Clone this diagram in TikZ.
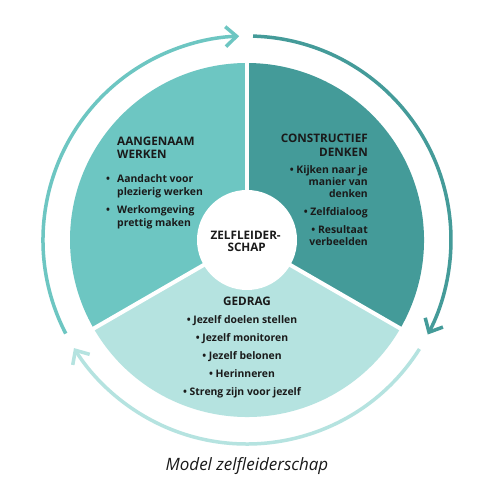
\documentclass[tikz,border=0pt]{standalone}
\usepackage{fontspec}
\setmainfont{Open Sans}
\usetikzlibrary{arrows.meta,calc}
\definecolor{secA}{HTML}{6DC6C2}
\definecolor{secB}{HTML}{449B99}
\definecolor{secC}{HTML}{B5E3E0}
\definecolor{txt}{HTML}{1A1A1A}
\begin{document}
\begin{tikzpicture}[x=1pt,y=1pt,
  hd/.style={font=\bfseries\fontsize{11.7}{13}\selectfont, text=txt, inner sep=0pt},
  bl/.style={font=\bfseries\fontsize{10.4}{12}\selectfont, text=txt, inner sep=0pt},
  ring/.style={line width=3.5pt, -{Straight Barb[length=11pt,width=20pt]}},
  gap/.style={white, line width=4pt}]
\useasboundingbox (0,0) rectangle (500,500);
\fill[white] (0,0) rectangle (500,500);
\coordinate (C) at (247,260);
% sectors
\fill[secA] (C) -- ($(C)+(90:177)$) arc[start angle=90,end angle=210,radius=177] -- cycle;
\fill[secB] (C) -- ($(C)+(-30:177)$) arc[start angle=-30,end angle=90,radius=177] -- cycle;
\fill[secC] (C) -- ($(C)+(210:177)$) arc[start angle=210,end angle=330,radius=177] -- cycle;
\foreach \a in {90,210,330} \draw[gap] (C) -- ($(C)+(\a:182)$);
\fill[white] (C) circle[radius=50];
% ring arrows
\draw[ring, secA] ($(C)+(207.3:204)$) arc[start angle=207.3,end angle=92.2,radius=204];
\draw[ring, secB] ($(C)+(88.3:204)$) arc[start angle=88.3,end angle=-27.6,radius=204];
\draw[ring, secC] ($(C)+(-32.3:204)$) arc[start angle=-32.3,end angle=-148,radius=204];
% centre
\node[hd, anchor=base] (z1) at (245.7,260.7) {ZELFLEIDER-};
\node[hd, anchor=base] (z2) at (246.7,248.3) {SCHAP};
% left sector
\node[hd, anchor=base west] (a1) at (117,354.5) {AANGENAAM};
\node[hd, anchor=base west] (a2) at (117,341.2) {WERKEN};
\node[bl, anchor=base] (ab1) at (108,317) {•};
\node[bl, anchor=base west] (a3) at (117,317) {Aandacht voor};
\node[bl, anchor=base west] (a4) at (117,304.3) {plezierig werken};
\node[bl, anchor=base] (ab2) at (108,286) {•};
\node[bl, anchor=base west] (a5) at (117,286) {Werkomgeving};
\node[bl, anchor=base west] (a6) at (117,273.3) {prettig maken};
% right sector
\node[hd, anchor=base east] (b1) at (368,357.3) {CONSTRUCTIEF};
\node[hd, anchor=base east] (b2) at (368,343.3) {DENKEN};
\node[bl, anchor=base east] (b3) at (368,326) {• Kijken naar je};
\node[bl, anchor=base east] (b4) at (368,314) {manier van};
\node[bl, anchor=base east] (b5) at (368,302) {denken};
\node[bl, anchor=base east] (b6) at (368,284) {• Zelfdialoog};
\node[bl, anchor=base east] (b7) at (368,266) {• Resultaat};
\node[bl, anchor=base east] (b8) at (368,254) {verbeelden};
% bottom sector
\node[hd, anchor=base] (c1) at (247,194.7) {GEDRAG};
\node[bl, anchor=base] (c2) at (242,176.7) {• Jezelf doelen stellen};
\node[bl, anchor=base] (c3) at (242,158.7) {• Jezelf monitoren};
\node[bl, anchor=base] (c4) at (242,140.7) {• Jezelf belonen};
\node[bl, anchor=base] (c5) at (242,122.7) {• Herinneren};
\node[bl, anchor=base] (c6) at (242,104.7) {• Streng zijn voor jezelf};
% caption
\node[font=\itshape\fontsize{17}{20}\selectfont, text=txt, inner sep=0pt, anchor=base] (cap) at (247,29) {Model zelfleiderschap};
\end{tikzpicture}
\end{document}
